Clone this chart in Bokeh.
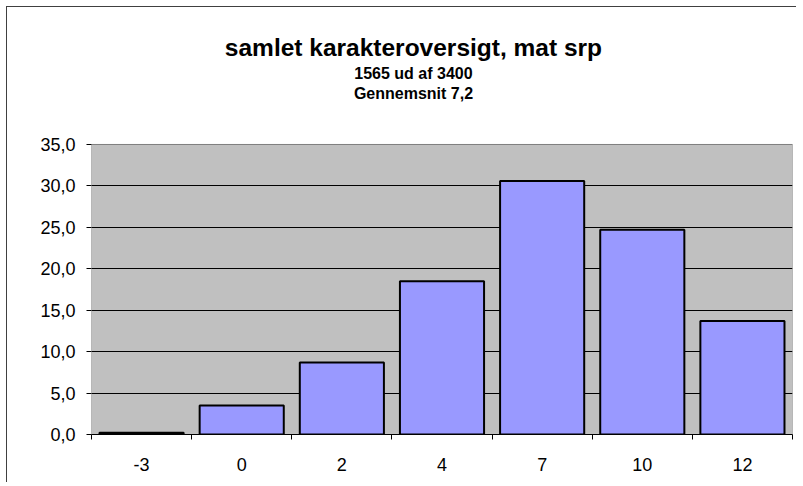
from bokeh.plotting import figure
from bokeh.models import ColumnDataSource, FixedTicker, Range1d
from bokeh.core.properties import value
from bokeh.embed import file_html
from bokeh.resources import INLINE

# ---- data ----
grades = ["-3", "0", "2", "4", "7", "10", "12"]
percent = [0.2, 3.5, 8.7, 18.5, 30.6, 24.7, 13.7]
y_ticks = [0, 5, 10, 15, 20, 25, 30, 35]
y_tick_labels = ["0,0", "5,0", "10,0", "15,0", "20,0", "25,0", "30,0", "35,0"]
title_text = "samlet karakteroversigt, mat srp"
subtitle_1 = "1565 ud af 3400"
subtitle_2 = "Gennemsnit 7,2"

FONT = "Liberation Sans"

centers = [i + 0.5 for i in range(len(grades))]
boundaries = [i for i in range(len(grades) + 1)]
y_max = y_ticks[-1]
y_view_top = 51.53  # extra room above the plot area for the titles

src = ColumnDataSource(dict(x=centers, top=percent, grade=grades))

p = figure(
    width=790, height=476,
    x_range=Range1d(0, len(grades)), y_range=Range1d(0, y_view_top),
    output_backend="svg", toolbar_location=None, title=None,
    min_border_left=84, min_border_top=0, min_border_right=5, min_border_bottom=49,
)
p.styles = {"margin-left": "6px", "margin-top": "6px",
            "border-left": "1px solid #404040", "border-top": "1px solid #404040"}

p.background_fill_color = "white"
p.border_fill_color = "white"
p.outline_line_color = None

# plot area (grey) with its border
p.quad(left=[p.x_range.start], right=[p.x_range.end], bottom=[0], top=[y_max],
       fill_color="#C0C0C0", line_color="#808080", line_width=1)
# horizontal grid lines behind the bars
p.hspan(y=y_ticks[1:-1], line_color="black", line_width=1)
p.hspan(y=[y_max], line_color="#808080", line_width=1)

p.vbar(x="x", top="top", bottom=0, width=0.84, source=src,
       fill_color="#9999FF", line_color="black", line_width=2)

# y axis
p.yaxis.ticker = FixedTicker(ticks=y_ticks, minor_ticks=[])
p.yaxis.major_label_overrides = {t: l for t, l in zip(y_ticks, y_tick_labels)}
p.yaxis.major_tick_out = 5
p.yaxis.major_tick_in = 0
p.yaxis.minor_tick_line_color = None
p.yaxis.axis_line_color = None
p.yaxis.major_tick_line_color = "black"
p.yaxis.major_label_text_font = FONT
p.yaxis.major_label_text_font_size = "18px"
p.yaxis.major_label_text_color = "black"
p.yaxis.major_label_standoff = 11

# x axis: labels at category centres, ticks at category boundaries
p.xaxis.ticker = FixedTicker(ticks=centers, minor_ticks=boundaries)
p.xaxis.major_label_overrides = {c: g for c, g in zip(centers, grades)}
p.xaxis.major_tick_line_color = None
p.xaxis.minor_tick_out = 5
p.xaxis.minor_tick_in = 0
p.xaxis.minor_tick_line_color = "black"
p.xaxis.axis_line_color = "black"
p.xaxis.major_label_text_font = FONT
p.xaxis.major_label_text_font_size = "18px"
p.xaxis.major_label_text_color = "black"
p.xaxis.major_label_standoff = 17

p.xgrid.grid_line_color = None
p.ygrid.grid_line_color = None

# titles
title_x = 3.215
p.text(x=[title_x], y=[46.71], text=[title_text], text_align="center", text_baseline="middle",
       text_font=value(FONT), text_font_style="bold", text_font_size="24.5px", text_color="black")
p.text(x=[title_x, title_x], y=[43.57, 41.16], text=[subtitle_1, subtitle_2],
       text_align="center", text_baseline="middle",
       text_font=value(FONT), text_font_style="bold", text_font_size="16px", text_color="black")

open("out.html", "w").write(file_html(p, INLINE))
